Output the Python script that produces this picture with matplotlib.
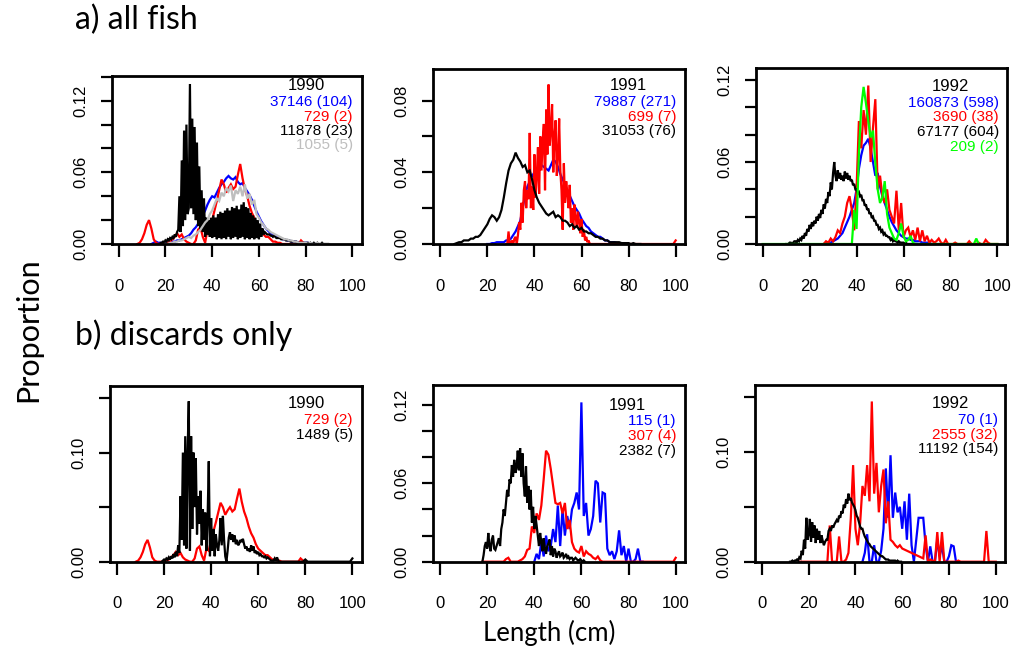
import numpy as np
import matplotlib.pyplot as plt

W, H = 1017, 651
plt.rcParams['font.family'] = ['Liberation Sans', 'DejaVu Sans']

BLUE, RED, BLACK, GREY, GREEN = '#0000ff', '#ff0000', '#000000', '#bebebe', '#00ff00'


def cm(start, values, step=1.0):
    # length bins for a series that starts at `start` cm
    return start + step * np.arange(len(values))


# ---------------- a) all fish, 1990 ----------------
a90_blue = [0.000, 0.001, 0.002, 0.001, 0.001, 0.001, 0.001, 0.001, 0.001, 0.002,
            0.002, 0.003, 0.003, 0.004, 0.005, 0.006, 0.007, 0.009, 0.012, 0.014,
            0.017, 0.020, 0.024, 0.028, 0.033, 0.037, 0.040, 0.039, 0.043, 0.047,
            0.050, 0.052, 0.055, 0.057, 0.055, 0.054, 0.056, 0.052, 0.050, 0.051,
            0.047, 0.044, 0.041, 0.037, 0.032, 0.027, 0.023, 0.019, 0.016, 0.013,
            0.011, 0.009, 0.008, 0.007, 0.006, 0.005, 0.004, 0.004, 0.003, 0.003,
            0.002, 0.002, 0.002, 0.001, 0.001, 0.001, 0.001, 0.001, 0.000, 0.000,
            0.000, 0.000]                                   # 14-85 cm
a90_red = [0.000, 0.001, 0.004, 0.009, 0.016, 0.020, 0.013, 0.004, 0.001, 0.000,
           0.000, 0.000, 0.000, 0.001, 0.002, 0.004, 0.006, 0.009, 0.006, 0.008,
           0.004, 0.002, 0.001, 0.000, 0.000, 0.003, 0.012, 0.014, 0.006, 0.001,
           0.012, 0.010, 0.020, 0.028, 0.036, 0.045, 0.054, 0.050, 0.043, 0.047,
           0.050, 0.046, 0.048, 0.058, 0.067, 0.055, 0.046, 0.040, 0.032, 0.026,
           0.022, 0.016, 0.012, 0.010, 0.008, 0.006, 0.006, 0.004, 0.002, 0.002,
           0.001, 0.001, 0.000, 0.000, 0.000, 0.000, 0.000, 0.000, 0.000, 0.000,
           0.003, 0.001, 0.000]                             # 8-80 cm
# half-cm bins, 18.0-89.5 cm
a90_black = [0.001, 0.001, 0.002, 0.001, 0.003, 0.002, 0.004, 0.003, 0.005, 0.004,
             0.006, 0.005, 0.008, 0.006, 0.010, 0.012, 0.040, 0.010, 0.070, 0.015,
             0.095, 0.020, 0.100, 0.025, 0.030, 0.134, 0.030, 0.105, 0.025, 0.098,
             0.020, 0.085, 0.015, 0.065, 0.012, 0.045, 0.010, 0.038, 0.006, 0.022,
             0.008, 0.020, 0.006, 0.022, 0.005, 0.024, 0.006, 0.022, 0.004, 0.025,
             0.005, 0.027, 0.004, 0.026, 0.005, 0.028, 0.004, 0.030, 0.006, 0.028,
             0.004, 0.031, 0.005, 0.030, 0.006, 0.032, 0.004, 0.029, 0.005, 0.033,
             0.006, 0.035, 0.004, 0.031, 0.005, 0.030, 0.004, 0.026, 0.005, 0.024,
             0.004, 0.022, 0.005, 0.020, 0.004, 0.017, 0.006, 0.013, 0.008, 0.010,
             0.009, 0.008, 0.008, 0.008, 0.007, 0.007, 0.006, 0.007, 0.006, 0.005,
             0.005, 0.005, 0.005, 0.004, 0.004, 0.004, 0.004, 0.003, 0.003, 0.003,
             0.003, 0.002, 0.002, 0.002, 0.002, 0.002, 0.002, 0.001, 0.001, 0.001,
             0.001, 0.001, 0.001, 0.001, 0.001, 0.001, 0.001, 0.000, 0.001, 0.000,
             0.000, 0.001, 0.000, 0.000, 0.001, 0.000, 0.000, 0.000, 0.001, 0.000,
             0.000, 0.000, 0.000, 0.000]
a90_grey = [0.000, 0.000, 0.001, 0.001, 0.002, 0.002, 0.003, 0.003, 0.004, 0.005,
            0.006, 0.005, 0.007, 0.008, 0.010, 0.012, 0.015, 0.018, 0.020, 0.025,
            0.028, 0.033, 0.038, 0.036, 0.043, 0.040, 0.047, 0.044, 0.049, 0.036,
            0.045, 0.042, 0.048, 0.040, 0.050, 0.038, 0.042, 0.033, 0.037, 0.025,
            0.022, 0.018, 0.016, 0.013, 0.012, 0.010, 0.009, 0.008, 0.007, 0.006,
            0.005, 0.004, 0.004, 0.003, 0.003, 0.002, 0.002, 0.001, 0.001, 0.001,
            0.001, 0.000, 0.001, 0.000, 0.000, 0.001, 0.000, 0.000, 0.000, 0.000,
            0.000]                                          # 20-90 cm

# ---------------- a) all fish, 1991 ----------------
a91_blue = [0.000, 0.000, 0.0005, 0.0005, 0.001, 0.001, 0.001, 0.001, 0.002, 0.002,
            0.003, 0.005, 0.007, 0.010, 0.013, 0.020, 0.027, 0.032, 0.035, 0.038,
            0.040, 0.042, 0.043, 0.044, 0.043, 0.042, 0.041, 0.044, 0.047, 0.046,
            0.043, 0.039, 0.036, 0.033, 0.030, 0.027, 0.024, 0.021, 0.019, 0.017,
            0.014, 0.012, 0.010, 0.009, 0.007, 0.006, 0.005, 0.004, 0.004, 0.003,
            0.002, 0.002, 0.001, 0.001, 0.001, 0.0005, 0.0005, 0.0005, 0.000, 0.000,
            0.000]                                          # 20-80 cm
# half-cm bins, 28.0-63.5 cm, plus a fish at 100 cm
a91_red = [0.000, 0.000, 0.007, 0.000, 0.000, 0.002, 0.000, 0.003, 0.004, 0.000,
           0.005, 0.012, 0.008, 0.023, 0.012, 0.030, 0.035, 0.020, 0.030, 0.025,
           0.062, 0.020, 0.032, 0.019, 0.050, 0.026, 0.038, 0.054, 0.028, 0.060,
           0.041, 0.058, 0.067, 0.030, 0.075, 0.050, 0.089, 0.055, 0.064, 0.078,
           0.040, 0.060, 0.069, 0.038, 0.048, 0.070, 0.041, 0.030, 0.008, 0.045,
           0.023, 0.035, 0.028, 0.020, 0.033, 0.012, 0.020, 0.008, 0.022, 0.015,
           0.010, 0.018, 0.012, 0.006, 0.014, 0.004, 0.008, 0.002, 0.004, 0.001,
           0.002, 0.000]
a91_red_tail_len = [64, 99, 100]
a91_red_tail = [0.000, 0.000, 0.002]
a91_black = [0.000, 0.0005, 0.001, 0.001, 0.002, 0.002, 0.002, 0.003, 0.003, 0.004,
             0.004, 0.005, 0.007, 0.009, 0.011, 0.014, 0.016, 0.015, 0.013, 0.015,
             0.019, 0.026, 0.034, 0.041, 0.045, 0.047, 0.051, 0.048, 0.046, 0.043,
             0.044, 0.040, 0.041, 0.036, 0.030, 0.026, 0.023, 0.021, 0.019, 0.017,
             0.016, 0.017, 0.018, 0.015, 0.016, 0.015, 0.013, 0.013, 0.012, 0.010,
             0.011, 0.009, 0.010, 0.008, 0.009, 0.007, 0.007, 0.006, 0.006, 0.005,
             0.004, 0.004, 0.003, 0.003, 0.002, 0.002, 0.001, 0.001, 0.001, 0.001,
             0.001, 0.0005, 0.0005, 0.0005, 0.0005, 0.000, 0.0005, 0.000, 0.000, 0.000]  # 6-85 cm

# ---------------- a) all fish, 1992 ----------------
a92_blue = [0.000, 0.001, 0.001, 0.001, 0.002, 0.003, 0.004, 0.006, 0.008, 0.012,
            0.016, 0.020, 0.025, 0.030, 0.040, 0.055, 0.065, 0.072, 0.074, 0.077,
            0.070, 0.060, 0.050, 0.052, 0.042, 0.035, 0.030, 0.025, 0.020, 0.016,
            0.013, 0.010, 0.008, 0.006, 0.005, 0.004, 0.004, 0.003, 0.003, 0.002,
            0.002, 0.002, 0.001, 0.001, 0.001, 0.001, 0.000, 0.000, 0.000, 0.000]  # 26-75 cm
a92_red = [0.000, 0.002, 0.001, 0.004, 0.002, 0.005, 0.010, 0.008, 0.015, 0.020,
           0.030, 0.035, 0.025, 0.010, 0.040, 0.090, 0.070, 0.098, 0.080, 0.116,
           0.060, 0.085, 0.106, 0.040, 0.050, 0.035, 0.030, 0.040, 0.025, 0.020,
           0.015, 0.039, 0.010, 0.030, 0.005, 0.010, 0.012, 0.005, 0.010, 0.003,
           0.012, 0.002, 0.010, 0.002, 0.006, 0.001, 0.003, 0.001, 0.002, 0.004,
           0.001, 0.000, 0.003, 0.000, 0.000, 0.000, 0.001, 0.000, 0.000, 0.000,
           0.000, 0.000, 0.002, 0.000, 0.000, 0.000, 0.001, 0.000, 0.000, 0.003,
           0.001, 0.000, 0.000, 0.000, 0.000]               # 26-100 cm
# half-cm bins, 10.0-65.5 cm
a92_black = [0.000, 0.000, 0.000, 0.001, 0.001, 0.000, 0.001, 0.002, 0.002, 0.001,
             0.003, 0.002, 0.004, 0.003, 0.006, 0.004, 0.008, 0.006, 0.011, 0.009,
             0.014, 0.011, 0.016, 0.013, 0.017, 0.015, 0.020, 0.017, 0.022, 0.019,
             0.025, 0.022, 0.029, 0.026, 0.033, 0.030, 0.038, 0.035, 0.045, 0.040,
             0.052, 0.060, 0.050, 0.046, 0.054, 0.048, 0.052, 0.047, 0.050, 0.046,
             0.053, 0.048, 0.052, 0.047, 0.050, 0.046, 0.047, 0.043, 0.044, 0.040,
             0.040, 0.037, 0.038, 0.035, 0.036, 0.032, 0.032, 0.028, 0.029, 0.025,
             0.026, 0.022, 0.023, 0.019, 0.020, 0.017, 0.017, 0.014, 0.014, 0.011,
             0.012, 0.009, 0.010, 0.007, 0.008, 0.006, 0.006, 0.005, 0.005, 0.003,
             0.004, 0.002, 0.003, 0.002, 0.002, 0.001, 0.002, 0.001, 0.001, 0.001,
             0.001, 0.000, 0.001, 0.000, 0.000, 0.000, 0.000, 0.000, 0.000, 0.000,
             0.000, 0.000]
a92_green_len = [0, 38, 39, 40, 41, 42, 43, 44, 45, 46, 47, 48, 49, 50, 51, 52, 53, 54,
                 55, 56, 57, 58, 59, 60, 61, 62, 63, 64, 65, 90, 91, 92, 100]
a92_green = [0.000, 0.000, 0.025, 0.011, 0.066, 0.100, 0.115, 0.103, 0.090, 0.078,
             0.083, 0.059, 0.040, 0.030, 0.034, 0.046, 0.022, 0.012, 0.008, 0.004,
             0.003, 0.008, 0.015, 0.006, 0.002, 0.003, 0.006, 0.001, 0.000, 0.000,
             0.004, 0.000, 0.000]

# ---------------- b) discards only, 1990 ----------------
b90_red = a90_red                                         # same 729 (2) sample
# half-cm bins, 19.0-69.5 cm, then a few isolated fish
b90_black = [0.000, 0.001, 0.002, 0.001, 0.003, 0.002, 0.004, 0.002, 0.005, 0.003,
             0.007, 0.004, 0.009, 0.005, 0.015, 0.008, 0.060, 0.020, 0.100, 0.015,
             0.115, 0.012, 0.100, 0.147, 0.010, 0.115, 0.030, 0.100, 0.050, 0.095,
             0.025, 0.060, 0.035, 0.065, 0.015, 0.048, 0.020, 0.045, 0.010, 0.040,
             0.092, 0.005, 0.040, 0.010, 0.030, 0.005, 0.025, 0.015, 0.010, 0.020,
             0.040, 0.015, 0.042, 0.020, 0.005, 0.000, 0.010, 0.022, 0.027, 0.020,
             0.025, 0.018, 0.024, 0.016, 0.020, 0.015, 0.017, 0.020, 0.018, 0.021,
             0.016, 0.012, 0.014, 0.010, 0.012, 0.009, 0.015, 0.010, 0.014, 0.008,
             0.010, 0.007, 0.009, 0.006, 0.007, 0.005, 0.005, 0.004, 0.005, 0.003,
             0.004, 0.003, 0.002, 0.001, 0.001, 0.001, 0.003, 0.001, 0.004, 0.001,
             0.000, 0.000]
b90_black_tail_len = [70, 79, 80, 81, 99, 100]
b90_black_tail = [0.000, 0.000, 0.002, 0.000, 0.000, 0.003]

# ---------------- b) discards only, 1991 ----------------
b91_blue = [0.000, 0.006, 0.002, 0.015, 0.004, 0.020, 0.008, 0.012, 0.025, 0.015,
            0.043, 0.012, 0.040, 0.020, 0.035, 0.025, 0.040, 0.045, 0.053, 0.040,
            0.122, 0.035, 0.045, 0.020, 0.025, 0.035, 0.062, 0.060, 0.030, 0.053,
            0.052, 0.010, 0.005, 0.008, 0.002, 0.008, 0.024, 0.005, 0.012, 0.000,
            0.010, 0.000, 0.000, 0.002, 0.010, 0.000, 0.000]  # 40-86 cm
b91_red = [0.000, 0.000, 0.000, 0.000, 0.000, 0.000, 0.000, 0.000, 0.000, 0.000,
           0.002, 0.003, 0.000, 0.000, 0.000, 0.000, 0.001, 0.002, 0.004, 0.009,
           0.010, 0.027, 0.022, 0.037, 0.032, 0.043, 0.063, 0.085, 0.082, 0.071,
           0.058, 0.045, 0.044, 0.045, 0.037, 0.045, 0.025, 0.032, 0.015, 0.010,
           0.008, 0.007, 0.012, 0.004, 0.008, 0.006, 0.005, 0.003, 0.002, 0.004,
           0.001, 0.000, 0.000]                             # 18-70 cm
b91_red_tail_len = [99, 100]
b91_red_tail = [0.000, 0.003]
# half-cm bins, 18.0-61.5 cm
b91_black = [0.000, 0.005, 0.012, 0.015, 0.010, 0.022, 0.012, 0.008, 0.017, 0.020,
             0.010, 0.009, 0.012, 0.015, 0.018, 0.012, 0.025, 0.030, 0.040, 0.035,
             0.045, 0.055, 0.050, 0.063, 0.060, 0.074, 0.065, 0.078, 0.068, 0.072,
             0.085, 0.070, 0.087, 0.065, 0.083, 0.060, 0.050, 0.073, 0.045, 0.058,
             0.040, 0.055, 0.030, 0.042, 0.025, 0.035, 0.028, 0.020, 0.012, 0.022,
             0.015, 0.008, 0.018, 0.010, 0.006, 0.012, 0.014, 0.017, 0.005, 0.012,
             0.004, 0.010, 0.008, 0.003, 0.006, 0.008, 0.004, 0.005, 0.007, 0.003,
             0.004, 0.006, 0.003, 0.004, 0.002, 0.003, 0.003, 0.001, 0.002, 0.003,
             0.002, 0.001, 0.001, 0.002, 0.001, 0.000, 0.001, 0.000]

# ---------------- b) discards only, 1992 ----------------
b92_blue = [0.000, 0.008, 0.025, 0.000, 0.000, 0.015, 0.000, 0.000, 0.010, 0.030,
            0.085, 0.040, 0.097, 0.040, 0.063, 0.045, 0.050, 0.030, 0.055, 0.020,
            0.062, 0.015, 0.000, 0.020, 0.040, 0.040, 0.040, 0.015, 0.000, 0.014,
            0.000, 0.000, 0.020, 0.005, 0.015, 0.000, 0.000, 0.005, 0.015, 0.014,
            0.000, 0.000]                                   # 43-84 cm
b92_red = [0.000, 0.000, 0.000, 0.000, 0.000, 0.000, 0.000, 0.000, 0.000, 0.000,
           0.000, 0.000, 0.000, 0.033, 0.000, 0.000, 0.000, 0.023, 0.000, 0.000,
           0.002, 0.008, 0.039, 0.088, 0.030, 0.015, 0.035, 0.069, 0.060, 0.088,
           0.055, 0.146, 0.062, 0.090, 0.045, 0.069, 0.084, 0.035, 0.055, 0.020,
           0.018, 0.015, 0.013, 0.015, 0.012, 0.011, 0.010, 0.009, 0.008, 0.007,
           0.006, 0.005, 0.004, 0.003, 0.024, 0.000, 0.002, 0.001, 0.000, 0.027,
           0.000, 0.027, 0.000, 0.000, 0.000, 0.000, 0.000, 0.000, 0.001, 0.000,
           0.000, 0.000, 0.000, 0.000, 0.000, 0.000, 0.000, 0.000, 0.000, 0.000,
           0.028, 0.000, 0.000, 0.000, 0.000]               # 16-100 cm
# half-cm bins, 12.0-59.5 cm
b92_black = [0.000, 0.000, 0.001, 0.000, 0.001, 0.001, 0.002, 0.001, 0.004, 0.003,
             0.010, 0.006, 0.020, 0.012, 0.040, 0.020, 0.025, 0.039, 0.018, 0.036,
             0.022, 0.033, 0.017, 0.030, 0.020, 0.028, 0.017, 0.024, 0.019, 0.015,
             0.018, 0.020, 0.020, 0.028, 0.030, 0.028, 0.033, 0.031, 0.034, 0.036,
             0.038, 0.036, 0.042, 0.040, 0.046, 0.044, 0.052, 0.049, 0.057, 0.053,
             0.062, 0.056, 0.058, 0.054, 0.052, 0.050, 0.047, 0.042, 0.040, 0.036,
             0.032, 0.030, 0.030, 0.026, 0.023, 0.021, 0.019, 0.017, 0.016, 0.014,
             0.013, 0.012, 0.011, 0.010, 0.009, 0.008, 0.007, 0.006, 0.005, 0.005,
             0.004, 0.003, 0.002, 0.002, 0.002, 0.001, 0.001, 0.001, 0.001, 0.001,
             0.001, 0.000, 0.001, 0.000, 0.000, 0.000]

panels = [
    dict(box=(111.7, 76.0, 361.7, 244.0), ymax=0.1407, ystep=0.02, every=3,
         series=[(cm(14, a90_blue), a90_blue, BLUE),
                 (cm(8, a90_red), a90_red, RED),
                 (cm(18, a90_black, 0.5), a90_black, BLACK),
                 (cm(20, a90_grey), a90_grey, GREY)],
         year='1990', year_x=306, right_x=353, y0=85.5,
         legend=[('37146 (104)', BLUE), ('729 (2)', RED), ('11878 (23)', BLACK), ('1055 (5)', GREY)]),
    dict(box=(433.3, 69.3, 685.0, 244.0), ymax=0.0975, ystep=0.02, every=2,
         series=[(cm(20, a91_blue), a91_blue, BLUE),
                 (np.concatenate([cm(28, a91_red, 0.5), a91_red_tail_len]), a91_red + a91_red_tail, RED),
                 (cm(6, a91_black), a91_black, BLACK)],
         year='1991', year_x=628, right_x=676, y0=85.5,
         legend=[('79887 (271)', BLUE), ('699 (7)', RED), ('31053 (76)', BLACK)]),
    dict(box=(755.7, 68.3, 1006.7, 244.0), ymax=0.1286, ystep=0.02, every=3,
         series=[(cm(26, a92_blue), a92_blue, BLUE),
                 (cm(26, a92_red), a92_red, RED),
                 (cm(10, a92_black, 0.5), a92_black, BLACK),
                 (a92_green_len, a92_green, GREEN)],
         year='1992', year_x=950, right_x=999, y0=86.5,
         legend=[('160873 (598)', BLUE), ('3690 (38)', RED), ('67177 (604)', BLACK), ('209 (2)', GREEN)]),
    dict(box=(110.0, 386.0, 361.7, 561.7), ymax=0.161, ystep=0.05, every=2,
         series=[(cm(8, b90_red), b90_red, RED),
                 (np.concatenate([cm(19, b90_black, 0.5), b90_black_tail_len]), b90_black + b90_black_tail, BLACK)],
         year='1990', year_x=306, right_x=353, y0=403.5,
         legend=[('729 (2)', RED), ('1489 (5)', BLACK)]),
    dict(box=(433.0, 385.0, 685.0, 561.7), ymax=0.1353, ystep=0.02, every=3,
         series=[(cm(40, b91_blue), b91_blue, BLUE),
                 (np.concatenate([cm(18, b91_red), b91_red_tail_len]), b91_red + b91_red_tail, RED),
                 (cm(18, b91_black, 0.5), b91_black, BLACK)],
         year='1991', year_x=627, right_x=676, y0=405,
         legend=[('115 (1)', BLUE), ('307 (4)', RED), ('2382 (7)', BLACK)]),
    dict(box=(755.0, 385.0, 1005.0, 561.7), ymax=0.161, ystep=0.05, every=2,
         series=[(cm(43, b92_blue), b92_blue, BLUE),
                 (cm(16, b92_red), b92_red, RED),
                 (cm(12, b92_black, 0.5), b92_black, BLACK)],
         year='1992', year_x=950, right_x=998, y0=403.5,
         legend=[('70 (1)', BLUE), ('2555 (32)', RED), ('11192 (154)', BLACK)]),
]

fig = plt.figure(figsize=(W / 100, H / 100), dpi=100)

for p in panels:
    left, top, right, bottom = p['box']
    ax = fig.add_axes([left / W, 1 - bottom / H, (right - left) / W, (bottom - top) / H])
    for x, y, c in p['series']:
        ax.plot(x, y, color=c, lw=1.6, solid_joinstyle='miter')
    ax.set_xlim(-2.96, 103.96)
    ax.set_ylim(0, p['ymax'])
    ax.set_xticks(range(0, 101, 20))
    yt = np.arange(0, p['ymax'] + 1e-9, p['ystep'])
    ax.set_yticks(yt)
    ax.set_yticklabels([f'{v:.2f}' if i % p['every'] == 0 else '' for i, v in enumerate(yt)])
    for lab in ax.get_yticklabels():
        lab.set_rotation(90)
        lab.set_va('center')
    ax.tick_params(axis='x', length=9, width=1.6, pad=16, labelsize=12)
    ax.tick_params(axis='y', length=8, width=1.6, pad=9, labelsize=12)
    for s in ax.spines.values():
        s.set_linewidth(2.0)

    fig.text(p['year_x'] / W, 1 - p['y0'] / H, p['year'], ha='center', va='center', fontsize=12)
    for i, (txt, c) in enumerate(p['legend']):
        yy = p['y0'] + 16.5 + 14.5 * i
        fig.text(p['right_x'] / W, 1 - yy / H, txt, ha='right', va='center', fontsize=11, color=c)

head = ['Lato', 'DejaVu Sans']
fig.text(75 / W, 1 - 20 / H, 'a) all fish', ha='left', va='center', family=head, fontsize=23)
fig.text(75 / W, 1 - 335 / H, 'b) discards only', ha='left', va='center', family=head, fontsize=23)
fig.text(28 / W, 1 - 330 / H, 'Proportion', ha='center', va='center', rotation=90, family=head, fontsize=22)
fig.text(549 / W, 1 - 633 / H, 'Length (cm)', ha='center', va='center', family=head, fontsize=18.5)

fig.savefig('out.png', dpi=100)
